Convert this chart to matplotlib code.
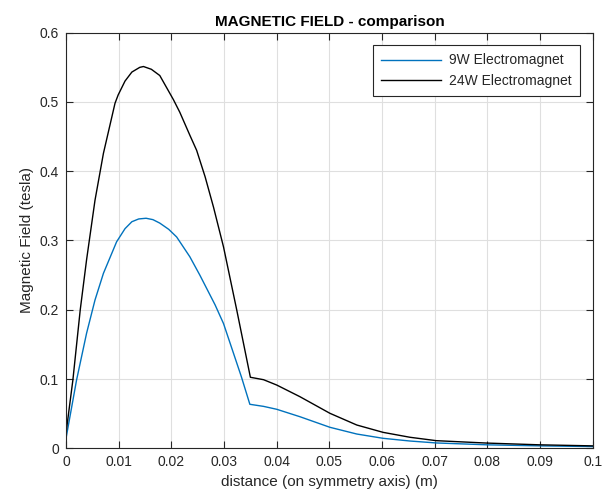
import numpy as np
import matplotlib
matplotlib.use("Agg")
import matplotlib.pyplot as plt
from matplotlib.ticker import FixedLocator, FixedFormatter

plt.rcParams['font.family'] = ['Liberation Sans', 'DejaVu Sans']

# 9W electromagnet, field on the symmetry axis
x_9w = [0.0, 0.002, 0.0039, 0.0055, 0.0071, 0.0096, 0.0112, 0.0125, 0.0138, 0.0152,
        0.0165, 0.0178, 0.0195, 0.021, 0.0235, 0.0254, 0.0283, 0.0299, 0.0318, 0.0333,
        0.0349, 0.0375, 0.04, 0.0444, 0.0501, 0.0552, 0.0602, 0.0653, 0.0703, 0.08,
        0.09, 0.1]
b_9w = [0.0144, 0.0985, 0.166, 0.214, 0.2525, 0.298, 0.317, 0.327, 0.331, 0.332,
        0.330, 0.325, 0.316, 0.305, 0.2765, 0.250, 0.207, 0.180, 0.137, 0.103,
        0.0635, 0.0605, 0.0563, 0.0456, 0.0303, 0.0206, 0.0144, 0.0105, 0.0077, 0.005,
        0.0035, 0.0025]

# 24W electromagnet
x_24w = [0.0, 0.0013, 0.0027, 0.0039, 0.0055, 0.0071, 0.0093, 0.0099, 0.0112, 0.0125,
         0.014, 0.0147, 0.0162, 0.0178, 0.0204, 0.0216, 0.0235, 0.0248, 0.0264, 0.028,
         0.0299, 0.0324, 0.0350, 0.0375, 0.04, 0.0444, 0.0501, 0.0552, 0.0602, 0.0653,
         0.0703, 0.08, 0.09, 0.1]
b_24w = [0.022, 0.0985, 0.20, 0.272, 0.358, 0.4257, 0.498, 0.51, 0.53, 0.543,
         0.5498, 0.551, 0.547, 0.538, 0.503, 0.485, 0.452, 0.43, 0.392, 0.348,
         0.2906, 0.200, 0.1025, 0.099, 0.0913, 0.0745, 0.0505, 0.0336, 0.023, 0.0159,
         0.011, 0.0075, 0.005, 0.0035]

x_ticks = [0, 0.01, 0.02, 0.03, 0.04, 0.05, 0.06, 0.07, 0.08, 0.09, 0.1]
x_labels = ['0', '0.01', '0.02', '0.03', '0.04', '0.05', '0.06', '0.07', '0.08', '0.09', '0.1']
y_ticks = [0, 0.1, 0.2, 0.3, 0.4, 0.5, 0.6]
y_labels = ['0', '0.1', '0.2', '0.3', '0.4', '0.5', '0.6']

fig = plt.figure(figsize=(6.03, 5.01), dpi=100)
ax = fig.add_axes([0.1095, 0.1052, 0.8735, 0.8298])

ax.plot(x_9w, b_9w, color='#0072BD', lw=1.0, label='9W Electromagnet')
ax.plot(x_24w, b_24w, color='black', lw=1.0, label='24W Electromagnet')

ax.set_xlim(0, 0.1)
ax.set_ylim(0, 0.6)
ax.xaxis.set_major_locator(FixedLocator(x_ticks))
ax.xaxis.set_major_formatter(FixedFormatter(x_labels))
ax.yaxis.set_major_locator(FixedLocator(y_ticks))
ax.yaxis.set_major_formatter(FixedFormatter(y_labels))

ax.grid(True, color='#dfdfdf', lw=0.8)
ax.set_axisbelow(True)
for s in ax.spines.values():
    s.set_color('#262626')
    s.set_linewidth(0.8)
ax.tick_params(direction='in', top=True, right=True, length=5, width=0.8,
               colors='#262626', labelsize=10, pad=5)

ax.set_title('MAGNETIC FIELD - comparison', fontsize=11, fontweight='bold', pad=5)
ax.set_xlabel('distance (on symmetry axis) (m)', fontsize=11, color='#262626')
ax.set_ylabel('Magnetic Field (tesla)', fontsize=11, color='#262626')

leg = ax.legend(loc='upper right', fontsize=10, fancybox=False, framealpha=1,
                edgecolor='#262626', handlelength=4.3, handletextpad=0.6,
                borderaxespad=0.9, borderpad=0.6, labelspacing=0.45,
                alignment='right')
leg.get_frame().set_linewidth(0.8)
for t in leg.get_texts():
    t.set_color('#262626')

fig.savefig('out.png', dpi=100)
